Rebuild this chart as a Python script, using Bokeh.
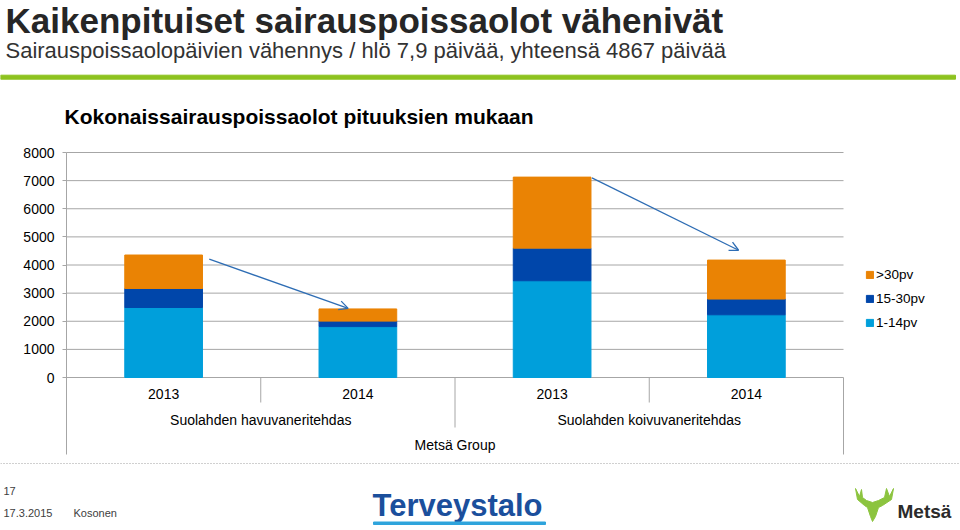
from bokeh.plotting import figure
from bokeh.models import (Range1d, FixedTicker, Legend, LegendItem, Arrow,
                          OpenHead, ColumnDataSource)
from bokeh.core.properties import value
from bokeh.embed import file_html
from bokeh.resources import INLINE

# ---------------- data ----------------
years = ["2013", "2014", "2013", "2014"]
plants = ["Suolahden havuvaneritehdas", "Suolahden havuvaneritehdas",
          "Suolahden koivuvaneritehdas", "Suolahden koivuvaneritehdas"]
company = "Metsä Group"
days_1_14 = [2490, 1810, 3440, 2230]
days_15_30 = [675, 195, 1160, 560]
days_over_30 = [1190, 433, 2525, 1385]
series_labels = ["1-14pv", "15-30pv", ">30pv"]
y_ticks = [0, 1000, 2000, 3000, 4000, 5000, 6000, 7000, 8000]

title_text = "Kaikenpituiset sairauspoissaolot vähenivät"
subtitle_text = "Sairauspoissaolopäivien vähennys / hlö 7,9 päivää, yhteensä 4867 päivää"
chart_title_text = "Kokonaissairauspoissaolot pituuksien mukaan"
footer_page = "17"
footer_date = "17.3.2015"
footer_author = "Kosonen"
logo_left = "Terveystalo"
logo_right = "Metsä"

# ---------------- styles / layout ----------------
colors = ["#009FDB", "#0046AA", "#EA8304"]
grid_gray = "#A6A6A6"
arrow_blue = "#2E6DB4"
green = "#8DC21F"
FONT = "Liberation Sans"
W, H = 960, 530
X0, PXU = 66, 194.25        # pixel position of the category axis start, px per category
Y0, Y_TOP_PX = 377, 152     # pixel position of value 0 and of the top tick
Y_FLOOR_PX = 454            # bottom of the category-label area

n = len(years)
upp = y_ticks[-1] / float(Y0 - Y_TOP_PX)     # value units per pixel
y_floor = -(Y_FLOOR_PX - Y0) * upp

p = figure(width=W, height=H, output_backend="svg", toolbar_location=None,
           x_range=Range1d(-X0 / PXU, (W - X0) / PXU),
           y_range=Range1d(-(H - Y0) * upp, Y0 * upp),
           x_axis_location=None, min_border=0)
p.outline_line_color = None
p.background_fill_color = "white"
p.border_fill_color = "white"
p.xgrid.visible = False
p.ygrid.visible = False
p.extra_x_ranges = {"px": Range1d(0, W)}
p.extra_y_ranges = {"px": Range1d(H, 0)}

ticker = FixedTicker(ticks=y_ticks)
yax = p.yaxis[0]
yax.fixed_location = 0
yax.bounds = (y_floor, y_ticks[-1])
yax.ticker = ticker
yax.axis_line_color = grid_gray
yax.major_tick_line_color = grid_gray
yax.major_tick_out = 4
yax.major_tick_in = 0
yax.minor_tick_line_color = None
yax.major_label_standoff = 8
yax.major_label_text_font = FONT
yax.major_label_text_font_size = "14px"
yax.major_label_text_color = "#000000"

# horizontal grid lines over the category span
p.segment(x0=[0] * len(y_ticks), y0=y_ticks, x1=[n] * len(y_ticks), y1=y_ticks,
          line_color=grid_gray, line_width=1)

x = [i + 0.5 for i in range(n)]
src = ColumnDataSource(dict(x=x, s1=days_1_14, s2=days_15_30, s3=days_over_30))
rs = p.vbar_stack(["s1", "s2", "s3"], x="x", width=0.4, color=colors, source=src)

legend = Legend(items=[LegendItem(label=series_labels[i], renderers=[rs[i]]) for i in (2, 1, 0)],
                location=(865, H - 330), orientation="vertical",
                glyph_width=9, glyph_height=9, label_height=16, spacing=8,
                label_standoff=2, padding=0, margin=0,
                border_line_color=None, background_fill_alpha=0,
                label_text_font=FONT, label_text_font_size="13.5px",
                label_text_color="#000000")
p.add_layout(legend)

totals = [a + b + c for a, b, c in zip(days_1_14, days_15_30, days_over_30)]
arrow_specs = [(0, 1, 0.235, -150, -0.05, 20), (2, 3, 0.205, -30, -0.04, 350)]
for i, j, dxs, dys, dxe, dye in arrow_specs:
    p.add_layout(Arrow(end=OpenHead(size=9, line_color=arrow_blue, line_width=1.3),
                       x_start=x[i] + dxs, y_start=totals[i] + dys,
                       x_end=x[j] + dxe, y_end=totals[j] + dye,
                       line_color=arrow_blue, line_width=1.3))

# multi-level category axis
label_style = dict(text_align="center", text_baseline="middle", text_font=value(FONT),
                   text_font_size="14px", text_color="#000000")
p.text(x=x, y=[0] * n, text=years, y_offset=16.5, **label_style)
group_names, group_x = [], []
for name in plants:
    if name not in group_names:
        group_names.append(name)
        xs = [x[k] for k in range(n) if plants[k] == name]
        group_x.append(sum(xs) / len(xs))
p.text(x=group_x, y=[0] * len(group_x), text=group_names, y_offset=42, **label_style)
p.text(x=[n / 2], y=[0], text=[company], y_offset=67, **label_style)

seg_x, seg_y1 = [], []
for i in range(1, n):
    seg_x.append(i)
    seg_y1.append(-(50 if plants[i] != plants[i - 1] else 25) * upp)
seg_x.append(n)
seg_y1.append(y_floor)
p.segment(x0=seg_x, y0=[0] * len(seg_x), x1=seg_x, y1=seg_y1,
          line_color=grid_gray, line_width=1)

# ---------------- slide decorations (pixel ranges) ----------------
PX = dict(x_range_name="px", y_range_name="px")


def put_text(text, px, py, size, bold=False, color="#000000", align="left"):
    p.text(x=[px], y=[py], text=[text], text_font=value(FONT), text_font_size=size,
           text_font_style="bold" if bold else "normal", text_color=color,
           text_align=align, text_baseline="middle", text_line_height=1.0, **PX)


put_text(title_text, 5, 20, "35px", bold=True, color="#262626")
put_text(subtitle_text, 5, 50, "22px", color="#333333")
p.quad(left=[0], right=[955], top=[74.7], bottom=[78.7], color=green, **PX)
put_text(chart_title_text, 64, 116, "21px", bold=True, color="#000000")

p.segment(x0=[0], y0=[463], x1=[960], y1=[463], line_color="#A0A0A0",
          line_width=1, line_dash="1 2", **PX)
put_text(footer_page, 3, 490, "11px", color="#404040")
put_text(footer_date, 3, 512, "11px", color="#404040")
put_text(footer_author, 73, 512, "11px", color="#404040")
put_text(logo_left, 372, 505, "31px", bold=True, color="#1B4F9C")
p.quad(left=[373], right=[545], top=[521.5], bottom=[524], color="#2FA4DC", **PX)
put_text(logo_right, 897, 511, "19px", bold=True, color="#2B2B2B")
antler = [(855, 488), (857, 499), (864, 505), (867, 507), (870, 516), (872, 521), (875, 516),
          (878, 507), (882, 505), (891, 499), (893, 488), (889, 496), (886, 488), (884, 497),
          (878, 500), (872, 502), (866, 500), (862, 497), (861, 489), (859, 496)]
p.patch(x=[a for a, b in antler], y=[b for a, b in antler],
        fill_color="#8CC43F", line_color="#8CC43F", **PX)

open("out.html", "w").write(file_html(p, INLINE))
